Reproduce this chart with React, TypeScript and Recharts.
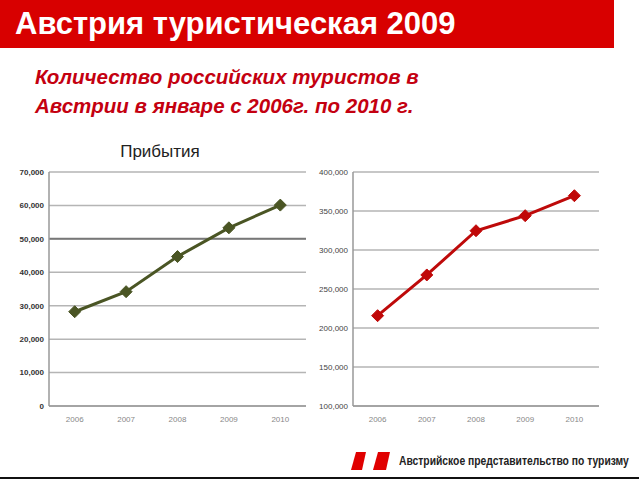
import { LineChart, Line, XAxis, YAxis, CartesianGrid, ReferenceLine } from 'recharts';

const years = ['2006', '2007', '2008', '2009', '2010'];
const arrivals = [28200, 34200, 44700, 53300, 60100];
const overnights = [215800, 268000, 324700, 344000, 369600];
const leftTicks = [0, 10000, 20000, 30000, 40000, 50000, 60000, 70000];
const rightTicks = [100000, 150000, 200000, 250000, 300000, 350000, 400000];

const leftData = years.map((year, i) => ({ year, value: arrivals[i] }));
const rightData = years.map((year, i) => ({ year, value: overnights[i] }));

const fmt = (v: number) => (v === 0 ? '0' : v.toLocaleString('en-US'));

function Diamond(color: string) {
    return (props: any) => {
        const { cx, cy, index } = props;
        const r = 6;
        return (
            <polygon
                key={index}
                points={`${cx},${cy - r} ${cx + r},${cy} ${cx},${cy + r} ${cx - r},${cy}`}
                fill={color}
                stroke={color}
            />
        );
    };
}

export default function App() {
    return (
        <div
            style={{
                position: 'absolute',
                left: 0,
                top: 0,
                width: 639,
                height: 479,
                background: '#fff',
                overflow: 'hidden',
                fontFamily: '"Liberation Sans", Arial, sans-serif',
            }}
        >
            <div
                style={{
                    position: 'absolute',
                    left: 0,
                    top: 0,
                    width: 614,
                    height: 48,
                    background: '#d80000',
                }}
            />
            <div
                style={{
                    position: 'absolute',
                    left: 15,
                    top: 7,
                    color: '#fff',
                    fontWeight: 'bold',
                    fontSize: 31,
                    lineHeight: '34px',
                    whiteSpace: 'nowrap',
                }}
            >
                Австрия туристическая 2009
            </div>
            <div
                style={{
                    position: 'absolute',
                    left: 35,
                    top: 62,
                    color: '#c40010',
                    fontWeight: 'bold',
                    fontStyle: 'italic',
                    fontSize: 20.5,
                    lineHeight: '29px',
                }}
            >
                Количество российских туристов в<br />
                Австрии в январе с 2006г. по 2010 г.
            </div>

            <div
                style={{
                    position: 'absolute',
                    left: 0,
                    top: 142,
                    width: 320,
                    textAlign: 'center',
                    fontSize: 17,
                    color: '#222',
                }}
            >
                Прибытия
            </div>

            <div style={{ position: 'absolute', left: 0, top: 150 }}>
                <LineChart
                    width={320}
                    height={280}
                    data={leftData}
                    margin={{ top: 22, right: 14, left: 5, bottom: 4 }}
                >
                    <CartesianGrid vertical={false} stroke="#b5b5b5" strokeWidth={1.5} />
                    <XAxis
                        dataKey="year"
                        scale="band"
                        height={20}
                        tickLine={false}
                        axisLine={{ stroke: '#999', strokeWidth: 1.5 }}
                        tick={{ fontSize: 8, fill: '#888' }}
                        tickMargin={4}
                    />
                    <YAxis
                        width={44}
                        domain={[0, 70000]}
                        ticks={leftTicks}
                        tickFormatter={fmt}
                        tickLine={false}
                        tickSize={3}
                        axisLine={{ stroke: '#999', strokeWidth: 1.5 }}
                        tick={{ fontSize: 8, fill: '#333', fontWeight: 'bold' }}
                    />
                    <ReferenceLine y={50000} stroke="#777" strokeWidth={2} />
                    <Line
                        dataKey="value"
                        stroke="#4a5524"
                        strokeWidth={3}
                        dot={Diamond('#4a5524')}
                        activeDot={false}
                        isAnimationActive={false}
                    />
                </LineChart>
            </div>

            <div style={{ position: 'absolute', left: 310, top: 150 }}>
                <LineChart
                    width={300}
                    height={280}
                    data={rightData}
                    margin={{ top: 22, right: 11, left: 5, bottom: 4 }}
                >
                    <CartesianGrid vertical={false} stroke="#b5b5b5" strokeWidth={1.5} />
                    <XAxis
                        dataKey="year"
                        scale="band"
                        height={20}
                        tickLine={false}
                        axisLine={{ stroke: '#999', strokeWidth: 1.5 }}
                        tick={{ fontSize: 8, fill: '#888' }}
                        tickMargin={4}
                    />
                    <YAxis
                        width={38}
                        domain={[100000, 400000]}
                        ticks={rightTicks}
                        tickFormatter={fmt}
                        tickLine={false}
                        tickSize={3}
                        axisLine={{ stroke: '#999', strokeWidth: 1.5 }}
                        tick={{ fontSize: 8, fill: '#444' }}
                    />
                    <Line
                        dataKey="value"
                        stroke="#be0a0a"
                        strokeWidth={3}
                        dot={Diamond('#c00808')}
                        activeDot={false}
                        isAnimationActive={false}
                    />
                </LineChart>
            </div>

            <svg
                style={{ position: 'absolute', left: 350, top: 450 }}
                width={50}
                height={22}
            >
                <polygon points="6,2 16,2 12,20 1,20" fill="#e00000" />
                <polygon points="28,2 40,2 36,20 23,20" fill="#e00000" />
            </svg>
            <div
                style={{
                    position: 'absolute',
                    left: 399,
                    top: 454,
                    fontSize: 12,
                    fontWeight: 'bold',
                    color: '#222',
                    transform: 'scaleX(0.86)',
                    transformOrigin: 'left',
                    whiteSpace: 'nowrap',
                }}
            >
                Австрийское представительство по туризму
            </div>
            <div
                style={{
                    position: 'absolute',
                    left: 0,
                    top: 477,
                    width: 639,
                    height: 2,
                    background: '#111',
                }}
            />
        </div>
    );
}
